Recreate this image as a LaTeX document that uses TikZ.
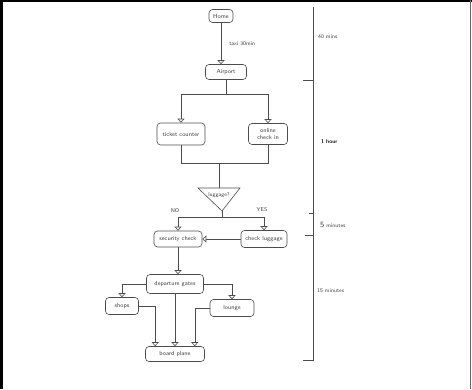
\documentclass[tikz,border=0pt]{standalone}
\usepackage{tikz}
\usetikzlibrary{
	positioning,
	arrows.meta
}

\tikzset{
	act/.style={draw=black!70, line width=0.6pt, rounded corners=3.5pt,
		font=\sffamily\fontsize{6}{6.5}\selectfont, text=black!75, align=center, inner sep=1pt},
	flow/.style={draw=black!70, line width=0.6pt, -{Triangle[open,length=4pt,width=7pt]}},
	wire/.style={draw=black!70, line width=0.6pt},
	note/.style={font=\sffamily\fontsize{5.5}{6}\selectfont, text=black!75, inner sep=0pt}
}

\begin{document}
\begin{tikzpicture}[x=1pt, y=-1pt]
		\useasboundingbox (0,0) rectangle (472,389);
		% table cell frame
		\fill (0,0) rectangle (472,2);
		\fill (0,0) rectangle (2.5,389);
		\draw[black!60, line width=0.8pt] (470.5,0) -- (470.5,389);

		\draw
			node[act, minimum width=24pt, minimum height=13pt] at (221,16)  (home)     {Home}
			node[act, minimum width=41pt, minimum height=15pt] at (226,72)  (airport)  {Airport}
			node[act, minimum width=48pt, minimum height=22pt] at (181,134) (ticket)   {ticket counter}
			node[act, minimum width=39pt, minimum height=21pt] at (268,134) (online)   {online\\check in}
			node[act, minimum width=48pt, minimum height=16pt] at (178,239) (security) {security check}
			node[act, minimum width=46pt, minimum height=17pt] at (264,239) (luggage)  {check luggage}
			node[act, minimum width=57pt, minimum height=19pt] at (175,284) (gates)    {departure gates}
			node[act, minimum width=33pt, minimum height=17pt] at (122,306) (shops)    {shops}
			node[act, minimum width=44pt, minimum height=17pt] at (232,308) (lounge)   {lounge}
			node[act, minimum width=59pt, minimum height=15pt] at (175,354) (board)    {board plane}
		;

		% decision triangle
		\coordinate (lugtop) at (219,188);
		\coordinate (lugtip) at (222,211);
		\draw[wire] (198,188) -- (240,188) -- (lugtip) -- cycle;
		\node[note] (lug) at (219,195) {luggage?};

		% connectors
		\draw[flow] (home.south) -- (home.south |- airport.north)
			node[note, midway, right=8pt] (taxi) {taxi 30min};
		\draw[wire] (airport.south) -- ++(0,14) coordinate (split);
		\draw[flow] (split) -| (ticket.north);
		\draw[flow] (split) -| (online.north);
		\coordinate (join) at (219,163);
		\draw[wire] (ticket.south) |- (join);
		\draw[wire] (online.south) |- (join);
		\draw[wire] (join) -- (lugtop);
		\draw[wire] (lugtip) -- ++(0,6) coordinate (fork);
		\draw[flow] (fork) -| (security.north);
		\draw[flow] (fork) -| (luggage.north);
		\node[note] (no)  at (175,211) {NO};
		\node[note] (yes) at (262,210) {YES};
		\draw[flow] (luggage.west) -- (security.east);
		\draw[flow] (security.south) -- (security.south |- gates.north);
		\draw[flow] (gates.west) -| (shops.north);
		\draw[flow] (gates.east) -| (lounge.north);
		\draw[flow] (gates.south) -- (board.north);
		\draw[flow] (shops.east) -| ([xshift=10pt]board.north west);
		\draw[flow] (lounge.west) -| ([xshift=-10pt]board.north east);

		% time line
		\draw[black!70, line width=0.6pt] (313,7) -- (313,360) -- (303,360);
		\draw[black!70, line width=0.6pt] (303,80) -- (313,80);
		\draw[black!70, line width=0.6pt] (309,213) -- (313,213);
		\draw[black!70, line width=0.6pt] (305,235) -- (313,235);
		\node[note, anchor=west] (t40) at (318,37)  {40 mins};
		\node[note, anchor=west, text=black!90] (t60) at (321,142) {\textbf{1 hour}};
		\node[note, anchor=west] (t5)  at (320,225) {{\fontsize{8}{8}\selectfont 5} minutes};
		\node[note, anchor=west] (t15) at (317,291) {15 minutes};
	\end{tikzpicture}
\end{document}
